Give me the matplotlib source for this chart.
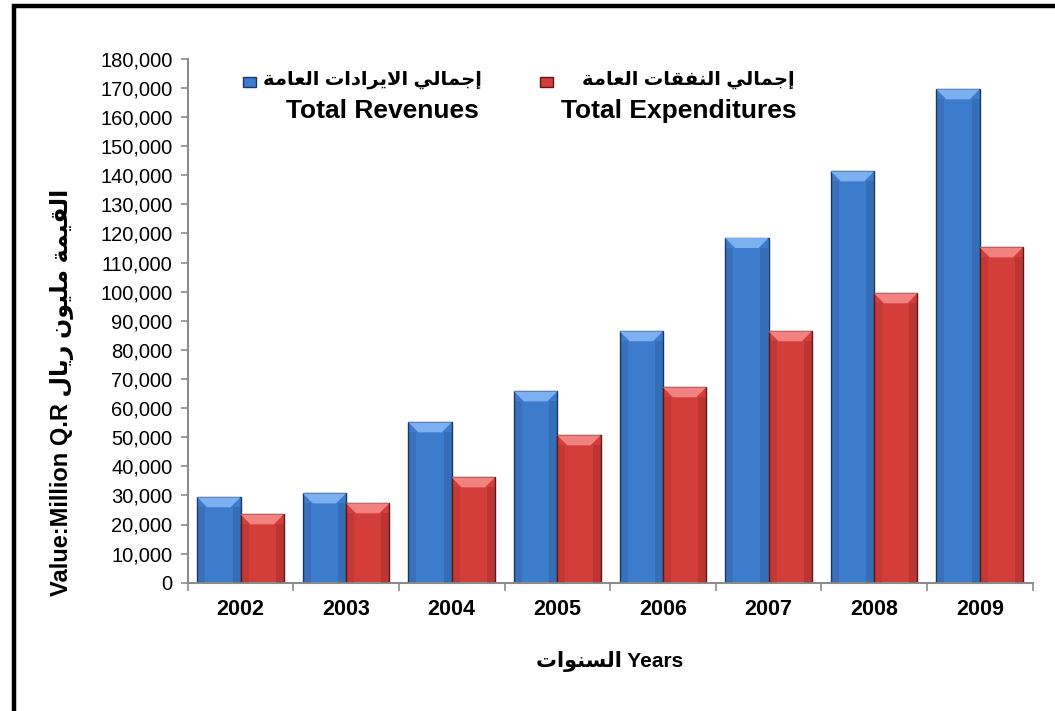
import matplotlib
matplotlib.use("Agg")
from matplotlib import pyplot as plt
from matplotlib.patches import Rectangle, Polygon
from matplotlib.ticker import FuncFormatter, MultipleLocator
import numpy as np

years = ["2002", "2003", "2004", "2005", "2006", "2007", "2008", "2009"]
revenues = [29350, 30700, 55100, 65750, 86400, 118450, 141350, 169550]
expenditures = [23500, 27300, 36200, 50650, 67150, 86400, 99450, 115250]

rev_label_ar = "إجمالي الايرادات العامة"
rev_label_en = "Total Revenues"
exp_label_ar = "إجمالي النفقات العامة"
exp_label_en = "Total Expenditures"
ylabel_en = "Value:Million Q.R"
ylabel_ar = "القيمة مليون ريال"
xlabel_ar = "السنوات"
xlabel_en = "Years"

# presentation forms: isolated, final, initial, medial
FORMS = {
    "ا": ("\ufe8d", "\ufe8e", None, None),
    "إ": ("\ufe87", "\ufe88", None, None),
    "ة": ("\ufe93", "\ufe94", None, None),
    "ت": ("\ufe95", "\ufe96", "\ufe97", "\ufe98"),
    "ج": ("\ufe9d", "\ufe9e", "\ufe9f", "\ufea0"),
    "د": ("\ufea9", "\ufeaa", None, None),
    "ر": ("\ufead", "\ufeae", None, None),
    "س": ("\ufeb1", "\ufeb2", "\ufeb3", "\ufeb4"),
    "ع": ("\ufec9", "\ufeca", "\ufecb", "\ufecc"),
    "ف": ("\ufed1", "\ufed2", "\ufed3", "\ufed4"),
    "ق": ("\ufed5", "\ufed6", "\ufed7", "\ufed8"),
    "ل": ("\ufedd", "\ufede", "\ufedf", "\ufee0"),
    "م": ("\ufee1", "\ufee2", "\ufee3", "\ufee4"),
    "ن": ("\ufee5", "\ufee6", "\ufee7", "\ufee8"),
    "و": ("\ufeed", "\ufeee", None, None),
    "ي": ("\ufef1", "\ufef2", "\ufef3", "\ufef4"),
    "LA": ("\ufefb", "\ufefc", None, None),
}


def shape(text):
    # join arabic letters and put them in visual (left to right) order
    units = []
    i = 0
    while i < len(text):
        if text[i] == "ل" and i + 1 < len(text) and text[i + 1] == "ا":
            units.append("LA")
            i += 2
        else:
            units.append(text[i])
            i += 1
    dual = lambda u: u in FORMS and FORMS[u][2] is not None
    out = []
    for k, u in enumerate(units):
        if u not in FORMS:
            out.append(u)
            continue
        prev = units[k - 1] if k > 0 else None
        nxt = units[k + 1] if k + 1 < len(units) else None
        jp = prev is not None and dual(prev)
        jn = nxt is not None and dual(u) and nxt in FORMS
        iso, fin, ini, med = FORMS[u]
        if jp and jn:
            out.append(med)
        elif jp:
            out.append(fin)
        elif jn:
            out.append(ini)
        else:
            out.append(iso)
    return "".join(reversed(out))


plt.rcParams["font.family"] = ["Liberation Sans", "DejaVu Sans"]

W, H = 1055, 711
fig = plt.figure(figsize=(W / 100, H / 100), dpi=100)
ax = fig.add_axes([187.7 / W, 1 - 582.7 / H, (1032.5 - 187.7) / W, (582.7 - 58.9) / H])

x = np.arange(len(years))
bw = 0.41
blue, blue_dark, blue_light = "#3d7bcc", "#1c3763", "#7cb0f0"
red, red_dark, red_light = "#d33e3b", "#5e1716", "#f28280"

ax.set_xlim(-0.5, len(years) - 0.5)
ax.set_ylim(0, 180000)

bars_r = ax.bar(x - bw / 2, revenues, bw, color=blue, edgecolor=blue_dark, linewidth=1.0, zorder=2)
bars_e = ax.bar(x + bw / 2, expenditures, bw, color=red, edgecolor=red_dark, linewidth=1.0, zorder=2)

# bevel on top of each bar
px_x = 1.0 / ((1032.5 - 187.7) / len(years))
px_y = 180000 / (582.7 - 58.9)
bev_x, bev_y = 10 * px_x, 10 * px_y
for bars, light, dark in [(bars_r, blue_light, blue_dark), (bars_e, red_light, red_dark)]:
    for b in bars:
        x0, w, h = b.get_x(), b.get_width(), b.get_height()
        ax.add_patch(Polygon([(x0, h), (x0 + w, h), (x0 + w - bev_x, h - bev_y), (x0 + bev_x, h - bev_y)],
                             closed=True, facecolor=light, edgecolor="none", zorder=3))
        ax.add_patch(Rectangle((x0, 0), bev_x * 0.8, h - bev_y, facecolor=dark, alpha=0.15,
                               edgecolor="none", zorder=3))
        ax.add_patch(Rectangle((x0 + w - bev_x * 0.8, 0), bev_x * 0.8, h - bev_y, facecolor=dark,
                               alpha=0.2, edgecolor="none", zorder=3))

for s in ["top", "right"]:
    ax.spines[s].set_visible(False)
for s in ["left", "bottom"]:
    ax.spines[s].set_color("#8c8c8c")
    ax.spines[s].set_linewidth(1.5)

ax.yaxis.set_major_locator(MultipleLocator(10000))
ax.yaxis.set_major_formatter(FuncFormatter(lambda v, p: f"{int(v):,}"))
ax.tick_params(axis="y", length=5, width=1.2, color="#8c8c8c", labelsize=14.5, pad=6)

ax.set_xticks(x)
ax.set_xticklabels(years, fontsize=15.5, fontweight="bold")
ax.set_xticks(np.arange(len(years) + 1) - 0.5, minor=True)
ax.tick_params(axis="x", which="major", length=0, pad=12)
ax.tick_params(axis="x", which="minor", length=6, width=1.2, color="#8c8c8c")

# legend drawn as text pieces
def fx(px):
    return px / W


def fy(py):
    return 1 - py / H


fig.text(fx(482), fy(80), shape(rev_label_ar), ha="right", va="center", fontsize=14, fontweight="bold")
fig.text(fx(479), fy(111), rev_label_en, ha="right", va="center", fontsize=19, fontweight="bold")
fig.text(fx(795), fy(80), shape(exp_label_ar), ha="right", va="center", fontsize=14, fontweight="bold")
fig.text(fx(797), fy(111), exp_label_en, ha="right", va="center", fontsize=19, fontweight="bold")
for x0, c, ec in [(243, blue, blue_dark), (540, red, red_dark)]:
    fig.patches.append(Rectangle((fx(x0), fy(87)), 13 / W, 10 / H, transform=fig.transFigure,
                                 facecolor=c, edgecolor=ec, linewidth=1))

fig.text(fx(62), fy(392), ylabel_en + " " + shape(ylabel_ar), rotation=90, ha="center", va="center",
         fontsize=17, fontweight="bold")
fig.text(fx(610), fy(662), shape(xlabel_ar) + " " + xlabel_en, ha="center", va="center",
         fontsize=15, fontweight="bold")

# outer frame
fig.patches.append(Rectangle((fx(14), -0.1), 1.2, fy(5.5) + 0.1, transform=fig.transFigure,
                             facecolor="none", edgecolor="black", linewidth=3.2))

fig.savefig("out.png", dpi=100)
